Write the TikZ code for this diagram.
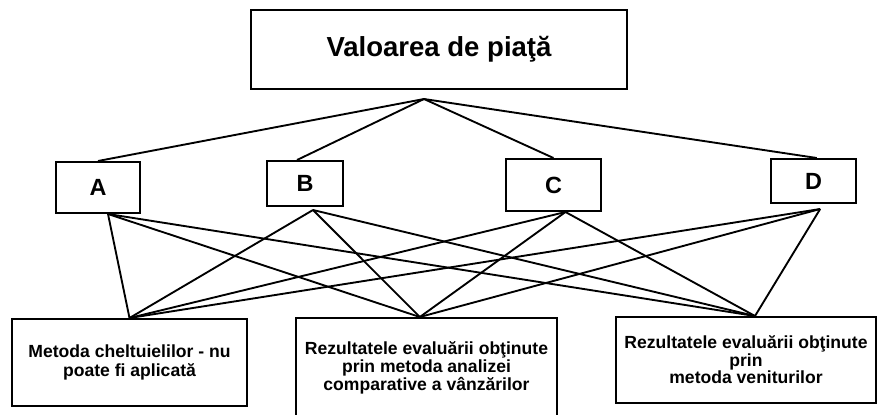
\documentclass[tikz,border=0pt]{standalone}
\usepackage{fontspec}
\setmainfont{Liberation Sans}
\usepackage{tikz}

\tikzset{
  boks/.style={draw, line width=1.7pt, inner sep=0pt, align=center, font=\bfseries},
  linje/.style={line width=1.6pt}
}

\begin{document}
\begin{tikzpicture}[x=0.03cm, y=-0.03cm]
 %% Ramme for bildet
    \useasboundingbox (0,0) rectangle (878,414);

 %% Toppboksen
    \node[boks, minimum width=11.28cm, minimum height=2.37cm, font=\bfseries\fontsize{23.5}{27}\selectfont] (verdi) at (439,49.5) {Valoarea de pia\c{t}\u{a}};
    \coordinate (hub) at (424,99);

 %% De fire boksene i midten
    \node[boks, minimum width=2.52cm, minimum height=1.53cm, font=\bfseries\fontsize{20}{24}\selectfont] (A) at (98,187.5) {A};
    \node[boks, minimum width=2.28cm, minimum height=1.35cm, font=\bfseries\fontsize{20}{24}\selectfont] (B) at (305,183.5) {B};
    \node[boks, minimum width=2.85cm, minimum height=1.56cm, font=\bfseries\fontsize{20}{24}\selectfont] (C) at (553.5,185) {C};
    \node[boks, minimum width=2.55cm, minimum height=1.32cm, font=\bfseries\fontsize{20}{24}\selectfont] (D) at (813.5,181) {D};

 %% Metodene nederst
    \node[boks, minimum width=7.05cm, minimum height=2.61cm, font=\bfseries\fontsize{15}{15.5}\selectfont] (kost) at (129.5,362.5) {Metoda cheltuielilor - nu\\poate fi aplicat\u{a}};
    \node[boks, minimum width=7.83cm, minimum height=3.0cm, font=\bfseries\fontsize{15}{12.6}\selectfont] (sammen) at (426.5,368) {Rezultatele evalu\u{a}rii ob\c{t}inute\\prin metoda analizei\\comparative a v\^{a}nz\u{a}rilor};
    \node[boks, minimum width=7.8cm, minimum height=2.58cm, font=\bfseries\fontsize{15}{13.8}\selectfont] (inntekt) at (746,360) {Rezultatele evalu\u{a}rii ob\c{t}inute\\prin\\metoda veniturilor};

 %% Punktene der linjene samles
    \coordinate (A-ut) at ([xshift=0.3cm]A.south);
    \coordinate (B-ut) at ([xshift=0.24cm, yshift=-0.09cm]B.south);
    \coordinate (C-ut) at ([xshift=0.36cm]C.south);
    \coordinate (D-ut) at ([xshift=0.2cm, yshift=-0.15cm]D.south);
    \coordinate (kost-inn) at (kost.north);
    \coordinate (sammen-inn) at ([xshift=-0.2cm]sammen.north);
    \coordinate (inntekt-inn) at ([xshift=0.27cm]inntekt.north);

 %% Linjer fra toppen
    \draw[linje] (hub) -- (A.north);
    \draw[linje] (hub) -- ([xshift=-0.24cm]B.north);
    \draw[linje] (hub) -- (C.north);
    \draw[linje] (hub) -- ([xshift=0.1cm]D.north);

 %% Linjer ned til metodene
    \draw[linje] (A-ut) -- (kost-inn);
    \draw[linje] (A-ut) -- (sammen-inn);
    \draw[linje] (A-ut) -- (inntekt-inn);

    \draw[linje] (B-ut) -- (kost-inn);
    \draw[linje] (B-ut) -- (sammen-inn);
    \draw[linje] (B-ut) -- (inntekt-inn);

    \draw[linje] (C-ut) -- (kost-inn);
    \draw[linje] (C-ut) -- (sammen-inn);
    \draw[linje] (C-ut) -- (inntekt-inn);

    \draw[linje] (D-ut) -- (kost-inn);
    \draw[linje] (D-ut) -- (sammen-inn);
    \draw[linje] (D-ut) -- (inntekt-inn);
  \end{tikzpicture}
\end{document}
